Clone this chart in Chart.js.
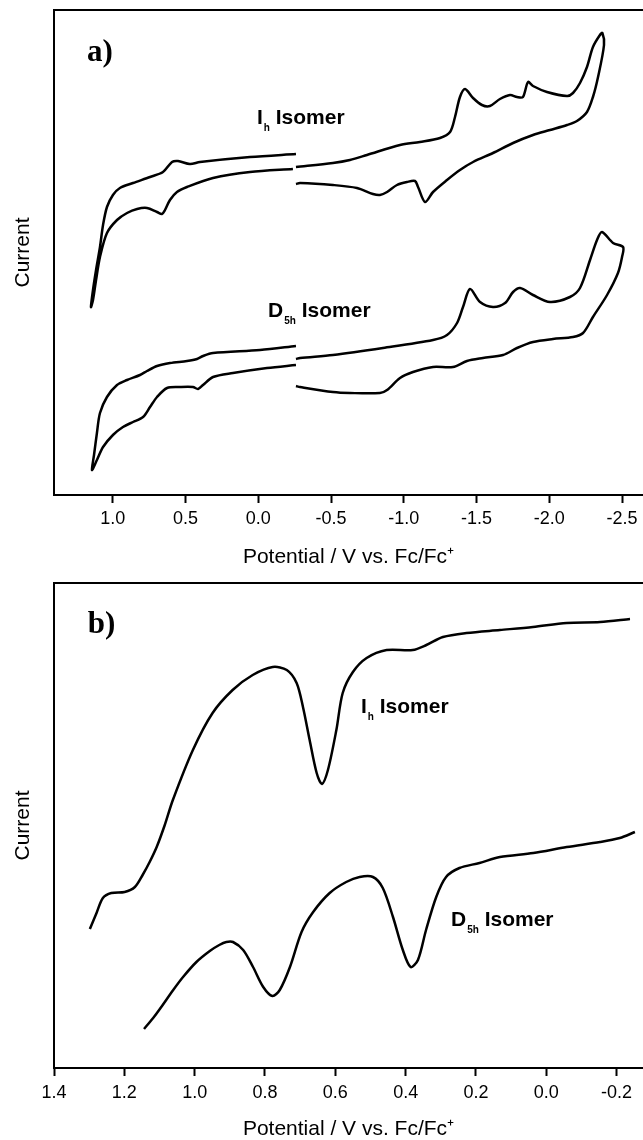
<!DOCTYPE html>
<html>
<head>
<meta charset="utf-8">
<script src="https://cdn.jsdelivr.net/npm/chart.js@4.4.1/dist/chart.umd.min.js"></script>
<style>
  html, body { margin: 0; padding: 0; background: #fff; overflow: hidden; }
  #wrap { position: relative; width: 643px; height: 1140px; }
  canvas { position: absolute; left: 0; }
  #cv { top: 0; }
  #dpv { top: 580px; }
</style>
</head>
<body>
<div id="wrap">
  <canvas id="cv" width="643" height="580"></canvas>
  <canvas id="dpv" width="643" height="560"></canvas>
</div>
<script>
// Potentials in V vs. Fc/Fc+, currents in arbitrary units (0 = bottom of the frame)

// a) cyclic voltammetry, positive window (sweep out to the tip and back)
const ihOxV = [-0.259, 0.057, 0.401, 0.470, 0.552, 0.593, 0.655, 0.744, 0.861, 0.951, 0.999, 1.040, 1.067, 1.088, 1.115, 1.136, 1.150,
               1.136, 1.115, 1.088, 1.040, 0.971, 0.902, 0.833, 0.765, 0.696, 0.662, 0.641, 0.607, 0.559, 0.490, 0.311, 0.057, -0.238];
const ihOxI = [341, 338, 333, 331, 334, 333, 323, 318, 312, 307, 300, 288, 270, 248, 225, 205, 188,
               195, 215, 238, 262, 275, 282, 286, 287, 283, 281, 285, 295, 303, 308, 317, 323, 326];

const d5hOxV = [-0.259, -0.012, 0.311, 0.380, 0.421, 0.490, 0.607, 0.696, 0.765, 0.813, 0.902, 0.971, 1.040, 1.088, 1.109, 1.129, 1.143,
                1.109, 1.067, 0.999, 0.930, 0.861, 0.792, 0.744, 0.696, 0.627, 0.538, 0.449, 0.414, 0.380, 0.311, 0.174, -0.060, -0.259];
const d5hOxI = [149, 145, 142, 139, 136, 134, 132, 129, 124, 120, 115, 110, 98, 82, 62, 40, 25,
                35, 48, 60, 68, 73, 78, 88, 98, 107, 108, 108, 106, 110, 118, 122, 127, 130];

// a) cyclic voltammetry, negative window
const ihRedV = [-0.259, -0.513, -0.630, -0.747, -0.974, -1.111, -1.249, -1.318, -1.352, -1.386, -1.421, -1.476, -1.537, -1.592, -1.661,
                -1.730, -1.778, -1.819, -1.854, -1.888, -1.984, -2.122, -2.163, -2.211, -2.259, -2.300, -2.348, -2.365,
                -2.376, -2.335, -2.300, -2.259, -2.190, -2.122, -2.005, -1.888, -1.751, -1.613, -1.476, -1.386, -1.297, -1.201,
                -1.146, -1.098, -1.077, -1.022, -0.953, -0.885, -0.836, -0.788, -0.678, -0.513, -0.287, -0.259];
const ihRedI = [328, 332, 335, 340, 350, 353, 357, 363, 378, 398, 406, 397, 390, 389, 396,
                400, 398, 398, 413, 409, 403, 399, 402, 412, 428, 448, 460, 462,
                450, 418, 398, 383, 374, 370, 365, 360, 352, 342, 333, 325, 315, 303,
                293, 308, 314, 313, 310, 303, 300, 301, 307, 310, 312, 311];

const d5hRedV = [-0.259, -0.287, -0.513, -0.857, -1.201, -1.297, -1.366, -1.407, -1.455, -1.524, -1.613, -1.696, -1.751, -1.799,
                 -1.888, -2.005, -2.142, -2.211, -2.280, -2.328, -2.362, -2.438, -2.507,
                 -2.500, -2.472, -2.397, -2.300, -2.232, -2.163, -2.025, -1.888, -1.778, -1.682, -1.544, -1.434, -1.338,
                 -1.201, -1.063, -0.974, -0.885, -0.836, -0.630, -0.513, -0.287, -0.259];
const d5hRedI = [136, 137, 140, 147, 155, 160, 172, 188, 206, 193, 188, 192, 203, 207,
                 200, 193, 198, 207, 235, 255, 263, 252, 248,
                 238, 222, 200, 178, 162, 158, 156, 153, 147, 140, 137, 134, 128,
                 128, 123, 117, 105, 102, 102, 103, 108, 109];

// b) differential pulse voltammetry
const ihDpvV = [1.298, 1.279, 1.261, 1.237, 1.199, 1.170, 1.148, 1.128, 1.108, 1.085, 1.062, 1.005, 0.949, 0.892, 0.835, 0.778,
                0.738, 0.710, 0.692, 0.673, 0.653, 0.638, 0.621, 0.597, 0.579, 0.550, 0.511, 0.454, 0.380, 0.341, 0.294,
                0.227, 0.132, 0.038, -0.058, -0.153, -0.238];
const ihDpvI = [139, 155, 170, 175, 176, 181, 193, 206, 221, 243, 268, 318, 355, 378, 393, 401,
                398, 385, 361, 328, 295, 284, 298, 338, 375, 396, 410, 418, 418, 423, 431,
                435, 438, 441, 445, 446, 449];

const d5hDpvV = [1.144, 1.118, 1.099, 1.061, 1.033, 0.995, 0.957, 0.930, 0.910, 0.891, 0.862, 0.834, 0.805, 0.779, 0.758, 0.729, 0.696,
                 0.663, 0.616, 0.569, 0.531, 0.493, 0.465, 0.436, 0.408, 0.386, 0.365, 0.342, 0.313, 0.285, 0.247, 0.190,
                 0.132, 0.037, -0.058, -0.153, -0.209, -0.252];
const d5hDpvI = [39, 50, 59, 78, 91, 106, 117, 123, 126, 126, 118, 101, 81, 72, 78, 101, 136,
                 156, 175, 186, 191, 191, 180, 151, 118, 101, 108, 138, 171, 191, 200, 205,
                 211, 215, 221, 226, 230, 236];

// axis ticks
const cvTicks = [1.0, 0.5, 0.0, -0.5, -1.0, -1.5, -2.0, -2.5];
const dpvTicks = [1.4, 1.2, 1.0, 0.8, 0.6, 0.4, 0.2, 0.0, -0.2];

// in-plot captions, anchored at (potential, current)
const cvPanel = { text: 'a)', v: 1.177, i: 434 };
const dpvPanel = { text: 'b)', v: 1.304, i: 435 };
const cvNames = [
  { main: 'I', sub: 'h', v: 0.009, i: 371 },
  { main: 'D', sub: '5h', v: -0.067, i: 178 }
];
const dpvNames = [
  { main: 'I', sub: 'h', v: 0.527, i: 355 },
  { main: 'D', sub: '5h', v: 0.271, i: 142 }
];

Chart.defaults.font.family = '"Liberation Sans", Arial, sans-serif';
Chart.defaults.color = '#000';

function toPoints(vs, is) {
  return vs.map((v, k) => ({ x: v, y: is[k] }));
}

function trace(vs, is) {
  return {
    data: toPoints(vs, is),
    showLine: true,
    borderColor: '#000',
    borderWidth: 2.5,
    pointRadius: 0,
    tension: 0.3,
    fill: false
  };
}

// top edge of the frame, panel letter and the isomer captions
function overlay(panel, names) {
  return {
    id: 'overlay',
    afterDraw(chart) {
      const { ctx, chartArea: a, scales: { x, y } } = chart;
      ctx.save();
      ctx.strokeStyle = '#000';
      ctx.lineWidth = 2;
      ctx.beginPath();
      ctx.moveTo(a.left - 1, a.top);
      ctx.lineTo(a.right, a.top);
      ctx.stroke();

      ctx.fillStyle = '#000';
      ctx.textBaseline = 'alphabetic';
      ctx.textAlign = 'left';
      ctx.font = 'bold 31px "Liberation Serif"';
      ctx.fillText(panel.text, x.getPixelForValue(panel.v), y.getPixelForValue(panel.i));

      names.forEach(n => {
        let px = x.getPixelForValue(n.v);
        const py = y.getPixelForValue(n.i);
        ctx.font = 'bold 21px "Liberation Sans"';
        ctx.fillText(n.main, px, py);
        px += ctx.measureText(n.main).width + 1;
        ctx.font = 'bold 10px "Liberation Sans"';
        ctx.fillText(n.sub, px, py + 7);
        px += ctx.measureText(n.sub).width;
        ctx.font = 'bold 21px "Liberation Sans"';
        ctx.fillText(' Isomer', px, py);
      });
      ctx.restore();
    }
  };
}

function makeChart(id, datasets, opts) {
  const ctx = document.getElementById(id).getContext('2d');
  return new Chart(ctx, {
    type: 'scatter',
    data: { datasets: datasets },
    options: {
      responsive: false,
      animation: false,
      devicePixelRatio: 1,
      layout: { padding: { top: opts.top, left: 0, right: 0, bottom: 0 } },
      plugins: { legend: { display: false }, tooltip: { enabled: false } },
      scales: {
        x: {
          type: 'linear',
          reverse: true,
          min: opts.xmin,
          max: opts.xmax,
          afterBuildTicks: s => { s.ticks = opts.ticks.map(v => ({ value: v })); },
          afterFit: s => { s.height = opts.axisHeight; },
          border: { display: true, color: '#000', width: 2 },
          grid: { drawOnChartArea: false, drawTicks: true, tickLength: 8, tickWidth: 2, tickColor: '#000' },
          ticks: {
            autoSkip: false,
            maxRotation: 0,
            padding: opts.tickGap,
            font: { size: 18 },
            callback: v => (Math.abs(v) < 1e-9 ? 0 : v).toFixed(1)
          },
          title: {
            display: true,
            text: 'Potential / V vs. Fc/Fc\u207A',
            font: { size: 21, lineHeight: 1 },
            padding: { top: 0, bottom: opts.titleGap }
          }
        },
        y: {
          type: 'linear',
          min: 0,
          max: 485,
          afterFit: s => { s.width = 54; },
          border: { display: true, color: '#000', width: 2 },
          grid: { display: false },
          ticks: { display: false },
          title: {
            display: true,
            text: 'Current',
            font: { size: 21, lineHeight: 1 },
            padding: { top: 12.5, bottom: 0 }
          }
        }
      }
    },
    plugins: [overlay(opts.panel, opts.names)]
  });
}

makeChart('cv', [
  trace(ihOxV, ihOxI),
  trace(ihRedV, ihRedI),
  trace(d5hOxV, d5hOxI),
  trace(d5hRedV, d5hRedI)
], { top: 10, xmin: -2.644, xmax: 1.404, ticks: cvTicks, axisHeight: 85, tickGap: 5, titleGap: 12.5, panel: cvPanel, names: cvNames });

makeChart('dpv', [
  trace(ihDpvV, ihDpvI),
  trace(d5hDpvV, d5hDpvI)
], { top: 3, xmin: -0.275, xmax: 1.4, ticks: dpvTicks, axisHeight: 72, tickGap: 6, titleGap: 0.5, panel: dpvPanel, names: dpvNames });
</script>
</body>
</html>
